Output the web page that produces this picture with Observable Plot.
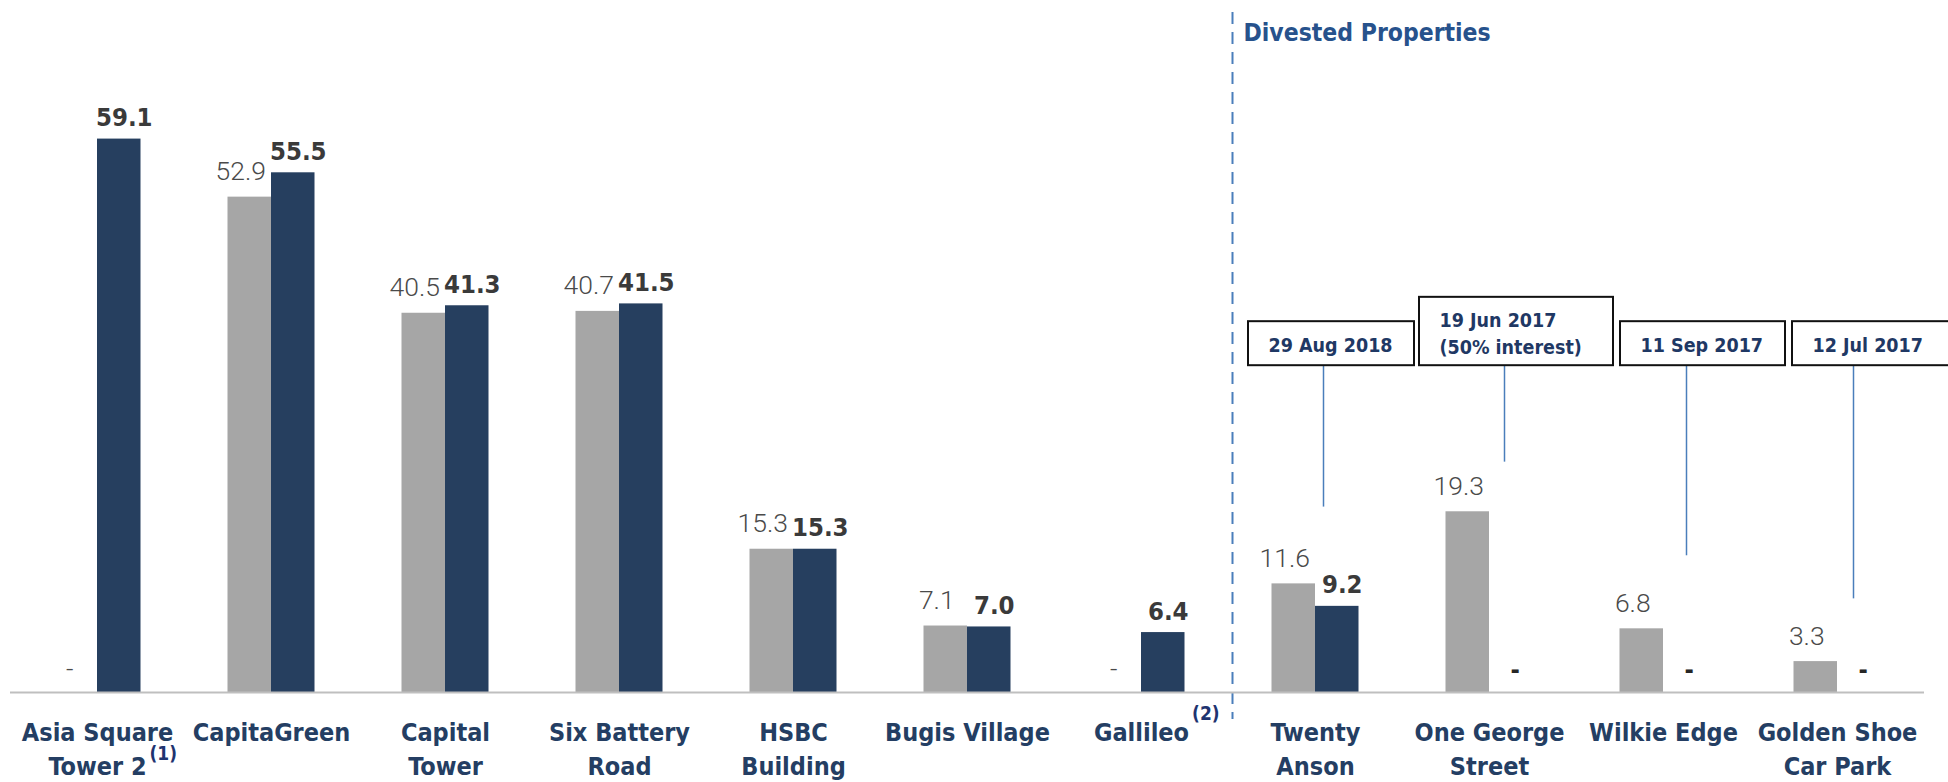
<!DOCTYPE html>
<html><head><meta charset="utf-8">
<script src="https://cdn.jsdelivr.net/npm/d3@7"></script>
<script src="https://cdn.jsdelivr.net/npm/@observablehq/plot@0.6"></script>
<style>html,body{margin:0;padding:0;background:#fff;overflow:hidden}</style>
</head><body><div id="chart"></div>
<script>
// ---- data ----
const properties = ["Asia Square Tower 2", "CapitaGreen", "Capital Tower", "Six Battery Road", "HSBC Building", "Bugis Village", "Gallileo", "Twenty Anson", "One George Street", "Wilkie Edge", "Golden Shoe Car Park"];
const axisLabels = ["Asia Square\nTower 2", "CapitaGreen", "Capital\nTower", "Six Battery\nRoad", "HSBC\nBuilding", "Bugis Village", "Gallileo", "Twenty\nAnson", "One George\nStreet", "Wilkie Edge", "Golden Shoe\nCar Park"];
const prevValues = [null, 52.9, 40.5, 40.7, 15.3, 7.1, null, 11.6, 19.3, 6.8, 3.3];
const currValues = [59.1, 55.5, 41.3, 41.5, 15.3, 7.0, 6.4, 9.2, null, null, null];
const footnoteProps = ["Asia Square Tower 2", "Gallileo"];
const footnoteMarks = ["(1)", "(2)"];
const dividerAt = "Twenty Anson";
const sectionTitle = "Divested Properties";
const calloutProps = ["Twenty Anson", "One George Street", "Wilkie Edge", "Golden Shoe Car Park"];
const calloutTexts = ["29 Aug 2018", "19 Jun 2017\n(50% interest)", "11 Sep 2017", "12 Jul 2017"];
const calloutLineEnd = [19.8, 24.6, 14.6, 10.0];
const calloutTop = [39.6, 42.2, 39.6, 39.6];
const calloutBottom = 34.9;
const yMax = 73.9;

// ---- layout / style (pixel offsets relative to each band) ----
const calloutLayout = [
  {left: -67, right: 99, line: 8},
  {left: -70, right: 124, line: 15},
  {left: -43, right: 122, line: 23},
  {left: -45, right: 125, line: 16}
];

// ---- tables ----
const prevRows = properties.map((name, i) => ({name, value: prevValues[i]}));
const currRows = properties.map((name, i) => ({name, value: currValues[i]}));
const labelRows = properties.map((name, i) => ({name, label: axisLabels[i]}));
const callouts = calloutProps.map((name, i) => ({name, text: calloutTexts[i], end: calloutLineEnd[i], top: calloutTop[i]}));

const FONT = "'DejaVu Sans Condensed', 'DejaVu Sans', sans-serif";
const LIGHT = "Roboto, 'DejaVu Sans', sans-serif";
const NAVY = "#243e63";
const LABEL_SIZE = 25;
const ctx = document.createElement("canvas").getContext("2d");
ctx.font = `bold ${LABEL_SIZE}px 'DejaVu Sans Condensed'`;
const notes = footnoteProps.map((name, i) => {
  const lines = axisLabels[properties.indexOf(name)].split("\n");
  const last = lines[lines.length - 1];
  return {name, note: footnoteMarks[i], half: ctx.measureText(last).width / 2, lines: lines.length};
});

const STEP = 174;
const BW = STEP / 4; // bar width

const calloutMarks = callouts.flatMap((c, i) => {
  const L = calloutLayout[i];
  return [
    Plot.ruleX([c], {x: "name", y1: "end", y2: () => calloutBottom, dx: L.line, stroke: "#4a7ebb", strokeWidth: 1.5}),
    Plot.barY([c], {x: "name", y1: () => calloutBottom, y2: "top", fill: "white", stroke: "#111", strokeWidth: 2, insetLeft: STEP / 2 + L.left, insetRight: STEP / 2 - L.right}),
    Plot.text([c], {x: "name", y: d => (d.top + calloutBottom) / 2, text: "text", dx: L.left + 20, textAnchor: "start", lineAnchor: "middle", lineHeight: 1.4, fontSize: 19.5, fontWeight: "bold", fill: "#1f3864"})
  ];
});

const noteMarks = notes.map(d => Plot.text([d], {x: "name", y: () => 0, text: "note", dx: d.half + 3, dy: 21 + 40 * (d.lines - 1), textAnchor: "start", fontSize: 19, fontWeight: "bold", fill: "#1f3470"}));

const chart = Plot.plot({
  width: 1948, height: 782,
  marginLeft: 10, marginRight: 24, marginTop: 0, marginBottom: 90,
  style: {fontFamily: FONT, background: "white"},
  x: {domain: properties, padding: 0, round: false, axis: null},
  y: {domain: [0, yMax], axis: null},
  marks: [
    // divider
    Plot.ruleX([dividerAt], {x: d => d, dx: -83, stroke: "#4a7ebb", strokeWidth: 2, strokeDasharray: "12,8", insetTop: 12, insetBottom: -27}),
    Plot.text([sectionTitle], {x: () => dividerAt, frameAnchor: "top", text: d => d, dx: -72, dy: 23, textAnchor: "start", fontSize: 24.5, fontWeight: "bold", fill: "#27528c"}),
    // bars
    Plot.barY(prevRows.filter(d => d.value != null), {x: "name", y: "value", fill: "#a6a6a6", insetLeft: BW, insetRight: 2 * BW}),
    Plot.barY(currRows.filter(d => d.value != null), {x: "name", y: "value", fill: "#263f5f", insetLeft: 2 * BW, insetRight: BW}),
    Plot.ruleY([0], {stroke: "#bfbfbf", strokeWidth: 2}),
    // value labels
    Plot.text(prevRows.filter(d => d.value != null), {x: "name", y: "value", text: d => d.value.toFixed(1), dx: -BW / 2 - 9, dy: -17, lineAnchor: "bottom", fontFamily: LIGHT, fontWeight: 300, fontSize: 26.5, fill: "#4a4a4a"}),
    Plot.text(currRows.filter(d => d.value != null), {x: "name", y: "value", text: d => d.value.toFixed(1), dx: BW / 2 + 5, dy: -13, lineAnchor: "bottom", fontSize: 25.5, fontWeight: "bold", fill: "#3a3a3a"}),
    // missing-value dashes
    Plot.text(prevRows.filter(d => d.value == null), {x: "name", y: () => 0, text: () => "-", dx: -BW / 2 - 6, dy: -23, fontFamily: LIGHT, fontWeight: 300, fontSize: 26, fill: "#4a4a4a"}),
    Plot.text(currRows.filter(d => d.value == null), {x: "name", y: () => 0, text: () => "-", dx: BW / 2 + 4, dy: -23, fontSize: 25, fontWeight: "bold", fill: "#262626"}),
    // category labels
    Plot.text(labelRows, {x: "name", y: () => 0, text: "label", dy: 24, lineAnchor: "top", lineHeight: 1.36, fontSize: LABEL_SIZE, fontWeight: "bold", fill: NAVY}),
    ...noteMarks,
    // callouts
    ...calloutMarks
  ]
});
document.getElementById("chart").append(chart);
</script>
</body></html>
